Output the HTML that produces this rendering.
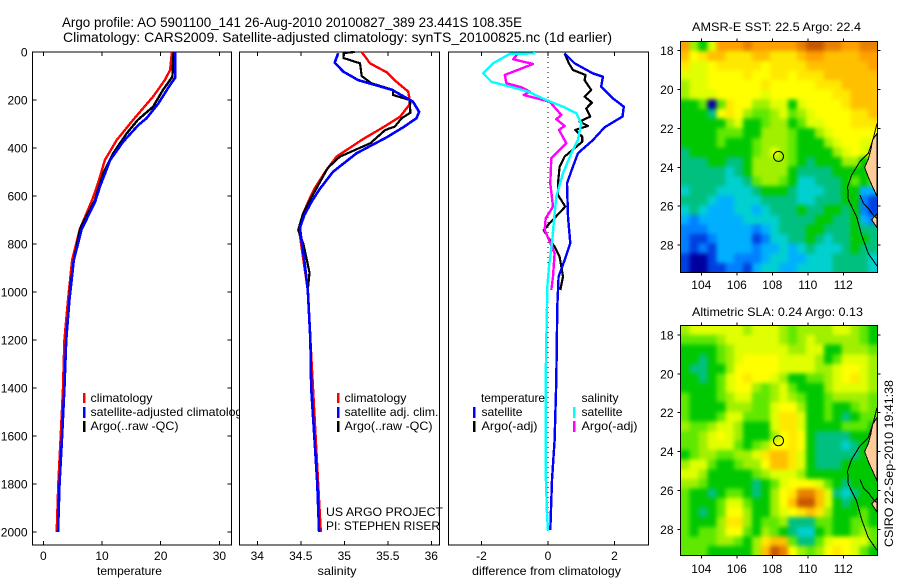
<!DOCTYPE html>
<html lang="en">
<head>
<meta charset="utf-8">
<title>Argo profile</title>
<style>
html,body{margin:0;padding:0;background:#fff;}
svg{display:block;}
text{font-family:"Liberation Sans",sans-serif;font-size:12px;fill:#000;}
.title{font-size:14px;}
</style>
</head>
<body>
<svg id="chart" xmlns="http://www.w3.org/2000/svg" width="900" height="580" viewBox="0 0 900 580">
<defs>
<filter id="smooth" filterUnits="userSpaceOnUse" x="640" y="0" width="260" height="580" color-interpolation-filters="sRGB"><feGaussianBlur stdDeviation="2"/></filter>
<clipPath id="clip-m1"><rect x="680.5" y="41.5" width="197" height="231"/></clipPath>
<clipPath id="clip-m2"><rect x="680.5" y="325.5" width="197" height="230"/></clipPath>
</defs>
<rect x="0" y="0" width="900" height="580" fill="#fff"/>
<text class="title" x="62" y="27" textLength="460" lengthAdjust="spacingAndGlyphs">Argo profile: AO 5901100_141 26-Aug-2010 20100827_389 23.441S 108.35E</text>
<text class="title" x="63" y="42" textLength="549" lengthAdjust="spacingAndGlyphs">Climatology: CARS2009. Satellite-adjusted climatology: synTS_20100825.nc (1d earlier)</text>
<g id="g1"></g>
<g>
<rect x="83" y="393" width="2.5" height="10" fill="#f00"/>
<rect x="83" y="407" width="2.5" height="11" fill="#00f"/>
<rect x="83" y="421" width="2.5" height="11" fill="#000"/>
<text x="90.5" y="402" textLength="62" lengthAdjust="spacingAndGlyphs">climatology</text>
<text x="90.5" y="416" textLength="158" lengthAdjust="spacingAndGlyphs">satellite-adjusted climatology</text>
<text x="90.5" y="430" textLength="88" lengthAdjust="spacingAndGlyphs">Argo(..raw -QC)</text>
</g>
<g id="g2"></g>
<g>
<rect x="337" y="393" width="2.5" height="10" fill="#f00"/>
<rect x="337" y="407" width="2.5" height="11" fill="#00f"/>
<rect x="337" y="421" width="2.5" height="11" fill="#000"/>
<text x="344.5" y="402" textLength="62" lengthAdjust="spacingAndGlyphs">climatology</text>
<text x="344.5" y="416" textLength="94" lengthAdjust="spacingAndGlyphs">satellite adj. clim.</text>
<text x="344.5" y="430" textLength="88" lengthAdjust="spacingAndGlyphs">Argo(..raw -QC)</text>
<text x="326" y="516" textLength="117" lengthAdjust="spacingAndGlyphs">US ARGO PROJECT</text>
<text x="326" y="530" textLength="114" lengthAdjust="spacingAndGlyphs">PI: STEPHEN RISER</text>
</g>
<g id="g3"></g>
<g>
<text x="481" y="402" textLength="64" lengthAdjust="spacingAndGlyphs">temperature</text>
<text x="581.5" y="402" textLength="37" lengthAdjust="spacingAndGlyphs">salinity</text>
<rect x="473" y="407" width="2.5" height="11" fill="#00f"/>
<rect x="473" y="421" width="2.5" height="11" fill="#000"/>
<rect x="573" y="407" width="2.5" height="11" fill="#0ff"/>
<rect x="573" y="421" width="2.5" height="11" fill="#f0f"/>
<text x="481.5" y="416" textLength="41" lengthAdjust="spacingAndGlyphs">satellite</text>
<text x="481.5" y="430" textLength="56" lengthAdjust="spacingAndGlyphs">Argo(-adj)</text>
<text x="581.5" y="416" textLength="41" lengthAdjust="spacingAndGlyphs">satellite</text>
<text x="581.5" y="430" textLength="56" lengthAdjust="spacingAndGlyphs">Argo(-adj)</text>
</g>
<g id="m1"></g>
<g id="m2"></g>
<text x="692" y="31" textLength="169" lengthAdjust="spacingAndGlyphs">AMSR-E SST: 22.5  Argo: 22.4</text>
<text x="692" y="316" textLength="171" lengthAdjust="spacingAndGlyphs">Altimetric SLA: 0.24  Argo: 0.13</text>
<text transform="translate(893,547) rotate(-90)" textLength="167" lengthAdjust="spacingAndGlyphs">CSIRO 22-Sep-2010 19:41:38</text>
</svg>
<script>
const depthTicks = [0,200,400,600,800,1000,1200,1400,1600,1800,2000];
const tempTicks = [0,10,20,30];
const salTicks = [34,34.5,35,35.5,36];
const diffTicks = [-2,0,2];
const lonTicks = [104,106,108,110,112];
const latTicks = [18,20,22,24,26,28];

const tempClimDepth = [0,75,117,186,283,367,450,540,612,740,867,1033,1200,1400,1600,1800,2000];
const tempClimVals = [21.9,21.6,20.7,18.7,15.3,12.5,10.5,9.4,8.4,6.2,4.9,4.2,3.6,3.35,2.96,2.56,2.28];
const tempSatDepth = [0,108,137,214,276,304,374,450,561,625,740,867,1033,1200,1400,1600,1800,2000];
const tempSatVals = [22.45,22.45,21.6,19.6,17.6,16.2,13.6,11.4,9.65,8.8,6.5,5.2,4.45,3.9,3.6,3.2,2.76,2.5];
const tempArgoDepth = [0,103,158,228,283,339,422,505,617,733,867,1000];
const tempArgoVals = [22.2,22.0,20.4,18.7,16.1,14.2,11.9,10.2,8.8,6.3,5.2,4.5];

const salClimDepth = [0,47,85,124,165,214,270,313,362,436,499,568,620,680,742,790,867,992,1200,1400,1600,1800,2000];
const salClimVals = [35.2,35.295,35.49,35.6,35.735,35.76,35.64,35.45,35.22,34.91,34.78,34.66,34.59,34.52,34.48,34.5,34.53,34.58,34.61,34.64,34.67,34.7,34.73];
const salSatDepth = [5,44,82,117,158,207,249,276,313,355,422,499,570,620,680,733,790,867,992,1200,1400,1600,1800,2000];
const salSatVals = [34.93,34.89,34.99,35.16,35.55,35.79,35.86,35.83,35.68,35.49,35.14,34.87,34.72,34.63,34.54,34.49,34.51,34.54,34.58,34.61,34.62,34.655,34.69,34.71];
const salArgoDepth = [0,4,25,47,100,130,158,179,200,253,276,311,325,380,436,483,568,620,680,742,800,867,920,992];
const salArgoVals = [35.12,34.99,34.99,35.18,35.2,35.31,35.56,35.56,35.75,35.76,35.66,35.58,35.47,35.3,34.95,34.81,34.68,34.6,34.52,34.47,34.53,34.57,34.6,34.58];

const dTempSatDepth = [6,47,89,103,144,193,228,269,314,367,422,478,547,686,797,867,936,1061,1367,1617,1783,1992];
const dTempSatVals = [0.5,0.8,1.35,1.65,1.6,1.95,2.28,2.24,1.7,1.35,0.9,0.75,0.57,0.6,0.67,0.5,0.32,0.28,0.25,0.2,0.12,0.07];
const dTempArgoDepth = [6,47,75,96,117,158,186,211,235,269,290,308,325,353,374,436,478,547,596,644,721,742,783,811,853,936,992];
const dTempArgoVals = [0.5,0.63,0.75,1.13,1.1,1.3,1.1,1.32,1.15,1.27,0.95,1.2,0.82,1.03,1.03,0.5,0.35,0.3,0.3,0.52,0,-0.13,0.05,0.2,0.35,0.45,0.37];
const dSalSatDepth = [6,8,47,89,124,144,165,200,228,255,297,367,422,505,603,714,783,894,978,1061,1200,1367,1756,1922,1996];
const dSalSatVals = [-0.37,-1.15,-1.65,-1.95,-1.7,-1.15,-0.6,-0.05,0.45,0.85,1,0.9,0.7,0.45,0.25,0.17,0.13,0.03,-0.02,-0.03,-0.05,-0.07,-0.07,-0.03,0];
const dSalArgoDepth = [6,30,50,96,130,147,165,179,207,262,280,308,325,380,443,547,644,693,742,790,839,936,992];
const dSalArgoVals = [-0.9,-1.05,-0.45,-1.3,-1.25,-0.8,-0.55,-0.73,0.05,0.4,0.25,0.5,0.33,0.55,0.1,0.07,0.15,-0.07,-0.1,0.05,0.2,0.15,0.1];

const sstRows = [
[13,8,6,9,13,13,13,14,13,13,13,13,13,14,15,15,14,14,13,13,14,14],
[12,10,11,12,12,11,11,11,12,12,11,11,11,12,13,13,12,12,12,12,13,13],
[11,9,9,10,11,11,11,11,11,10,11,11,11,11,12,12,12,12,12,12,12,13],
[9,9,9,10,10,10,10,11,10,10,11,11,10,11,11,11,12,12,12,12,12,12],
[8,9,9,10,10,10,10,10,10,11,10,10,10,10,10,11,11,11,12,12,12,12],
[8,9,9,9,10,10,10,10,10,9,10,10,10,10,10,10,10,11,11,12,12,12],
[6,6,7,0,7,11,10,10,8,8,9,9,6,9,10,10,10,10,11,12,12,12],
[6,6,6,5,10,11,10,8,7,7,8,9,7,8,9,10,10,10,10,11,11,12],
[6,6,6,6,6,8,9,6,6,7,8,8,6,7,9,9,10,10,10,11,11,11],
[6,6,6,6,7,7,7,6,6,8,8,8,7,6,6,8,9,10,10,10,10,10],
[6,6,6,6,7,6,6,6,7,8,8,8,7,6,6,6,8,9,10,10,9,9],
[5,6,6,6,6,6,6,6,7,8,9,8,7,6,6,6,6,8,9,10,9,8],
[5,5,5,6,6,5,5,6,8,8,8,8,7,6,5,6,6,6,8,8,6,8],
[5,5,5,5,5,4,5,6,8,8,8,8,6,5,5,5,5,6,6,6,6,7],
[5,5,5,5,5,4,4,5,7,8,8,7,6,4,4,5,5,5,6,7,6,7],
[4,5,5,5,4,4,4,4,5,6,6,6,5,4,4,4,5,5,6,6,3,3],
[5,5,5,4,3,3,4,4,4,5,5,5,5,4,4,5,5,5,6,6,2,1],
[4,5,4,3,3,3,4,4,3,4,5,5,5,6,5,5,6,6,5,6,2,1],
[3,2,3,3,3,3,3,4,4,4,4,5,5,5,5,6,6,5,5,6,3,2],
[2,2,2,3,3,3,3,3,2,3,4,5,5,5,6,6,5,5,5,6,5,5],
[2,1,1,2,3,3,3,3,1,2,4,4,5,5,6,5,4,5,5,6,6,5],
[2,1,2,1,3,3,3,3,2,3,3,4,3,4,5,4,4,4,5,6,5,5],
[1,0,0,1,3,3,2,2,2,3,4,4,3,3,4,4,4,5,5,5,5,4],
[1,0,0,1,1,2,2,1,3,4,4,3,3,4,4,4,4,5,5,5,5,4]
];
const slaRows = [
[8,9,9,9,9,9,9,8,9,9,9,8,7,8,8,8,8,9,9,8,7,6],
[7,7,7,7,8,9,9,9,9,9,9,8,7,8,9,8,8,8,8,8,7,6],
[6,6,6,6,7,8,9,9,9,9,9,9,8,8,9,9,6,6,8,8,8,7],
[6,6,5,6,7,8,9,10,10,10,10,9,9,9,9,8,6,7,9,9,9,8],
[6,5,5,6,6,8,10,10,10,10,10,9,9,9,9,8,8,9,10,10,9,8],
[6,6,5,6,7,9,10,11,10,10,9,8,6,6,7,7,8,9,10,11,9,8],
[6,6,6,6,7,9,10,10,8,7,8,9,7,6,6,6,8,9,9,9,9,8],
[7,6,6,6,7,8,9,9,7,7,8,9,8,7,6,6,7,8,8,8,8,7],
[7,6,6,6,6,8,8,8,7,7,9,10,10,8,6,6,7,6,6,7,8,7],
[7,6,6,6,7,9,9,7,7,7,9,11,11,9,6,6,7,6,5,6,7,7],
[8,7,7,8,9,9,8,6,6,6,9,11,11,9,6,6,6,6,7,7,7,6],
[7,7,8,9,10,9,8,6,6,6,8,10,11,10,6,5,5,5,5,6,6,6],
[7,7,8,9,9,9,7,6,7,8,10,10,11,10,6,5,5,5,4,5,6,6],
[6,7,8,8,7,7,8,8,9,11,12,12,11,9,6,5,5,5,5,5,6,7],
[8,9,9,7,6,6,7,8,8,10,12,12,11,9,6,5,5,5,6,6,6,6],
[9,9,8,6,6,6,6,6,7,8,9,9,9,8,6,6,6,6,6,6,6,6],
[8,8,7,6,6,6,6,6,5,6,7,9,10,10,10,9,7,6,5,6,6,6],
[7,6,6,5,6,7,7,6,5,6,8,10,11,14,14,12,9,5,4,5,6,6],
[7,6,6,6,7,9,9,7,6,6,8,10,12,15,15,12,9,6,5,6,6,6],
[7,6,5,6,7,10,10,8,6,6,8,9,10,11,12,11,8,6,6,6,7,6],
[7,6,6,6,8,11,11,8,6,7,7,8,5,5,5,7,7,6,6,7,7,6],
[7,6,7,7,8,10,10,7,6,8,7,6,5,4,4,6,7,6,6,7,8,7],
[7,7,7,7,8,8,7,6,8,11,12,12,7,5,5,7,9,10,10,9,9,7],
[7,7,7,6,6,6,6,6,8,12,15,14,10,8,7,8,10,11,10,9,7,6]
];
const coastLon = [113.9,113.69,113.41,112.94,112.47,112.24,112.28,112.75,113.03,113.41,113.9];
const coastLat = [21.74,22.51,23.28,23.71,24.4,25.0,25.68,26.54,27.49,28.43,29.08];
const landLon = [113.9,113.65,113.55,113.4,113.2,113.45,113.65,113.9];
const landLat = [22.25,22.6,23.1,23.6,24.0,24.6,25.0,25.5];
const land2Lon = [113.9,113.6,113.9];
const land2Lat = [26.4,26.7,27.1];
const bayLon = [112.94,113.13,113.41,113.69,113.9];
const bayLat = [25.43,25.86,26.11,26.46,26.63];
const floatLon = 108.35;
const floatLat = 23.44;

const palette = ['#0000a0','#0040e0','#0080ff','#00b0ff','#00d0d0','#00c080','#00c800','#60e800','#a0f000','#e0ff00','#ffff00','#ffe800','#ffc000','#ffa000','#e88000','#c85800'];
const NS = 'http://www.w3.org/2000/svg';

function mk(parent, tag, attrs) {
  const el = document.createElementNS(NS, tag);
  for (const k in attrs) el.setAttribute(k, attrs[k]);
  parent.appendChild(el);
  return el;
}
function yDepth(d) { return 52 + 0.24 * d; }
function xTemp(v) { return 43.3 + 5.87 * v; }
function xSal(v) { return 257.3 + 87 * (v - 34); }
function xDiff(v) { return 548 + 33.25 * v; }

function drawPanel(g, left, right, xScale, ticks, label, labelX, labelW) {
  const top = 52, bottom = 545;
  const bg = mk(g, 'rect', {x:left, y:top, width:right-left, height:bottom-top, fill:'#fff', stroke:'#000', 'stroke-width':1, 'shape-rendering':'crispEdges'});
  
  
  ticks.forEach(function (t) {
    const x = xScale(t);
    const a = mk(g, 'path', {d:'M'+x+' '+bottom+'V'+(bottom-4)+'M'+x+' '+top+'V'+(top+4), stroke:'#000', fill:'none', 'shape-rendering':'crispEdges'});
    
    
    const l = mk(g, 'text', {x:x, y:560, 'text-anchor':'middle'});
    l.textContent = String(t);
    
    
  });
  const xl = mk(g, 'text', {x:labelX, y:575, 'text-anchor':'middle', textLength:labelW, lengthAdjust:'spacingAndGlyphs'});
  xl.textContent = label;
  
  
}
function drawLine(g, xs, ds, xScale, color, w, name) {
  const pts = xs.map(function (v, i) { return xScale(v).toFixed(1) + ',' + yDepth(ds[i]).toFixed(1); }).join(' ');
  const p = mk(g, 'polyline', {points:pts, fill:'none', stroke:color, 'stroke-width':w, 'shape-rendering':'crispEdges', 'stroke-linejoin':'round'});
  
  
}

const g1 = document.getElementById('g1');
drawPanel(g1, 32.5, 231.5, xTemp, tempTicks, 'temperature', 129.5, 65);
depthTicks.forEach(function (t) {
  const y = yDepth(t);
  const a = mk(g1, 'path', {d:'M32.5 '+y+'H36.5M231.5 '+y+'H227.5', stroke:'#000', fill:'none', 'shape-rendering':'crispEdges'});
  
  
  const l = mk(g1, 'text', {x:27.5, y:y+4.5, 'text-anchor':'end'});
  l.textContent = String(t);
  
  
});
drawLine(g1, tempClimVals, tempClimDepth, xTemp, '#f00', 2.4, 'temperature-climatology-line');
drawLine(g1, tempArgoVals, tempArgoDepth, xTemp, '#000', 2.4, 'temperature-argo-line');
drawLine(g1, tempSatVals, tempSatDepth, xTemp, '#00f', 2.6, 'temperature-satellite-line');

const g2 = document.getElementById('g2');
drawPanel(g2, 239.5, 439.5, xSal, salTicks, 'salinity', 337, 39);
drawLine(g2, salClimVals, salClimDepth, xSal, '#f00', 2.4, 'salinity-climatology-line');
drawLine(g2, salArgoVals, salArgoDepth, xSal, '#000', 2.2, 'salinity-argo-line');
drawLine(g2, salSatVals, salSatDepth, xSal, '#00f', 2.6, 'salinity-satellite-line');

const g3 = document.getElementById('g3');
drawPanel(g3, 448.5, 648.5, xDiff, diffTicks, 'difference from climatology', 546.5, 149);
const zero = mk(g3, 'line', {x1:xDiff(0), x2:xDiff(0), y1:yDepth(0), y2:yDepth(2000), stroke:'#000', 'stroke-width':1, 'stroke-dasharray':'1 4', 'shape-rendering':'crispEdges'});


drawLine(g3, dTempArgoVals, dTempArgoDepth, xDiff, '#000', 2.2, 'temperature-argo-difference-line');
drawLine(g3, dTempSatVals, dTempSatDepth, xDiff, '#00f', 2.4, 'temperature-satellite-difference-line');
drawLine(g3, dSalArgoVals, dSalArgoDepth, xDiff, '#f0f', 2.4, 'salinity-argo-difference-line');
drawLine(g3, dSalSatVals, dSalSatDepth, xDiff, '#0ff', 2.4, 'salinity-satellite-difference-line');

function drawMap(g, rows, top, bottom, lat18, cellName, labelY, clipId) {
  const left = 680.5, right = 877.5;
  const pad = 14;
  const xLon = function (v) { return 701.3 + 17.75 * (v - 104); };
  const yLat = function (v) { return lat18 + 19.43 * (v - 18); };
  const cw = (right - left) / rows[0].length;
  const ch = (bottom - top) / rows.length;
  const clipG = mk(g, 'g', {'clip-path':'url(#' + clipId + ')'});
  
  
  const cellG = mk(clipG, 'g', {filter:'url(#smooth)'});
  
  
  const nR = rows.length, nC = rows[0].length;
  rows.forEach(function (row, r) {
    row.forEach(function (v, c) {
      const x0 = left + c * cw - (c === 0 ? pad : 0);
      const y0 = top + r * ch - (r === 0 ? pad : 0);
      const x1 = left + (c + 1) * cw + (c === nC - 1 ? pad : 0.5);
      const y1 = top + (r + 1) * ch + (r === nR - 1 ? pad : 0.5);
      const cell = mk(cellG, 'rect', {x:x0, y:y0, width:x1 - x0, height:y1 - y0, fill:palette[v], 'shape-rendering':'crispEdges'});
      
      
    });
  });
  const poly = function (lons, lats, fill, name) {
    const pts = lons.map(function (v, i) { return xLon(v).toFixed(1) + ',' + yLat(lats[i]).toFixed(1); }).join(' ');
    const p = mk(g, fill === 'none' ? 'polyline' : 'polygon', {points:pts, fill:fill, stroke:'#000', 'stroke-width':1, 'shape-rendering':'crispEdges'});
    
    
  };
  poly(landLon, landLat, '#ffcc99', 'land-area');
  poly(land2Lon, land2Lat, '#ffcc99', 'land-area');
  poly(coastLon, coastLat, 'none', 'coastline');
  poly(bayLon, bayLat, 'none', 'bay-coastline');
  const marker = mk(g, 'circle', {cx:xLon(floatLon), cy:yLat(floatLat), r:5, fill:'none', stroke:'#000', 'stroke-width':1});
  
  
  const frame = mk(g, 'rect', {x:left, y:top, width:right-left, height:bottom-top, fill:'none', stroke:'#000', 'stroke-width':1, 'shape-rendering':'crispEdges'});
  
  
  lonTicks.forEach(function (t) {
    const x = xLon(t);
    const a = mk(g, 'path', {d:'M'+x+' '+top+'v-3M'+x+' '+bottom+'v3', stroke:'#000', 'shape-rendering':'crispEdges'});
    
    
    const l = mk(g, 'text', {x:x, y:labelY, 'text-anchor':'middle'});
    l.textContent = String(t);
    
    
  });
  latTicks.forEach(function (t) {
    const y = yLat(t);
    const a = mk(g, 'path', {d:'M'+left+' '+y+'h-3M'+right+' '+y+'h3', stroke:'#000', 'shape-rendering':'crispEdges'});
    
    
    const l = mk(g, 'text', {x:673.5, y:y+4.5, 'text-anchor':'end'});
    l.textContent = String(t);
    
    
  });
}
drawMap(document.getElementById('m1'), sstRows, 41.5, 272.5, 50.7, 'sst-cell', 289, 'clip-m1');
drawMap(document.getElementById('m2'), slaRows, 325.5, 555.5, 335, 'sla-cell', 573, 'clip-m2');
</script>
</body>
</html>
